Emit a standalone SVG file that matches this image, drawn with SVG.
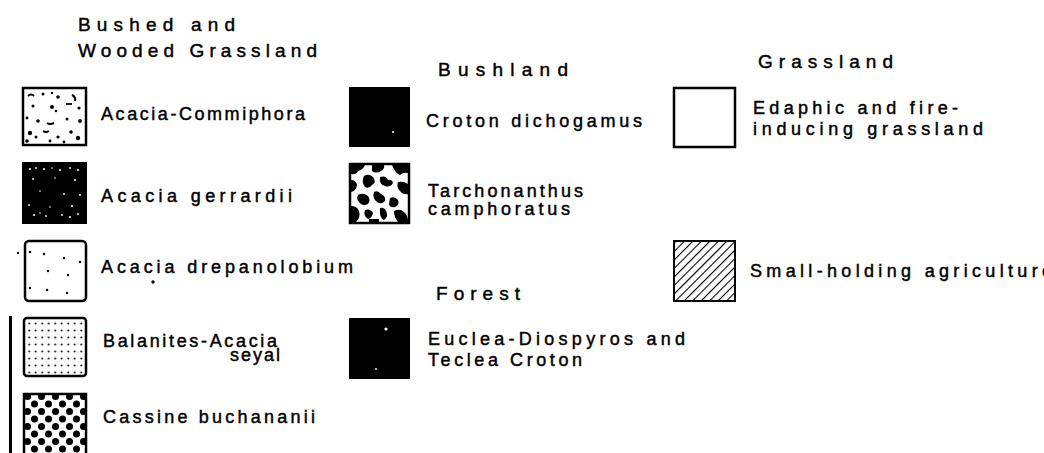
<svg xmlns="http://www.w3.org/2000/svg" width="1044" height="453" viewBox="0 0 1044 453">
<style>
text{font-family:"Liberation Sans","DejaVu Sans",sans-serif;fill:#000;stroke:#000;stroke-width:0.45;}
.h{font-size:19px;}
.t{font-size:18px;}
.box{fill:#fff;stroke:#000;stroke-width:2.5;}
.blk{fill:#000;stroke:#000;stroke-width:2;}
</style>
<defs>
<pattern id="grid" x="26" y="320" width="6.5" height="7" patternUnits="userSpaceOnUse">
<circle cx="3.2" cy="3.5" r="0.95" fill="#000"/>
</pattern>
<pattern id="cass" x="24" y="393" width="14" height="15" patternUnits="userSpaceOnUse">
<circle cx="3.5" cy="3.5" r="3.5" fill="#000"/>
<circle cx="10.5" cy="11" r="3.5" fill="#000"/>
</pattern>
<pattern id="hatch" x="0" y="0" width="6" height="6" patternUnits="userSpaceOnUse" patternTransform="rotate(45)">
<line x1="0" y1="0" x2="0" y2="6" stroke="#000" stroke-width="2.2"/>
</pattern>
</defs>

<g id="header-bushed">
<text class="h" x="78" y="31" textLength="157" lengthAdjust="spacing">Bushed  and</text>
<text class="h" x="78" y="57" textLength="239" lengthAdjust="spacing">Wooded Grassland</text>
</g>

<g id="acacia-commiphora">
<rect class="box" x="23" y="88" width="63" height="57"/>
<g fill="#000">
<path d="M28 96 q3 -3 6 0" stroke="#000" stroke-width="1.8" fill="none"/>
<circle cx="43" cy="94" r="1.5"/><circle cx="52" cy="93" r="1.2"/><circle cx="58" cy="97" r="1.8"/>
<path d="M72 95 q4 2 3 6" stroke="#000" stroke-width="2" fill="none"/>
<circle cx="33" cy="106" r="1.5"/><circle cx="52" cy="107" r="2"/><circle cx="56" cy="111" r="1.3"/>
<path d="M66 104 h6" stroke="#000" stroke-width="1.8"/>
<circle cx="79" cy="108" r="1.6"/>
<circle cx="27" cy="118" r="1.4"/><circle cx="38" cy="121" r="1.8"/><path d="M47 123 q3 2 7 0" stroke="#000" stroke-width="2" fill="none"/>
<circle cx="67" cy="119" r="1.5"/><circle cx="80" cy="121" r="1.9"/>
<circle cx="30" cy="133" r="2.2"/><circle cx="36" cy="137" r="1.5"/><path d="M43 131 q3 2 6 0" stroke="#000" stroke-width="1.8" fill="none"/>
<circle cx="58" cy="137" r="1.6"/><circle cx="71" cy="132" r="1.8"/><circle cx="78" cy="138" r="2.2"/>
<circle cx="27" cy="141" r="1.8"/><circle cx="50" cy="141" r="1.4"/><circle cx="64" cy="142" r="1.4"/>
</g>
<text class="t" x="101" y="120" textLength="204" lengthAdjust="spacing">Acacia-Commiphora</text>
</g>

<g id="acacia-gerrardii">
<rect class="blk" x="23" y="163" width="63" height="60"/>
<g fill="#fff">
<circle cx="30" cy="169" r="1"/><circle cx="36" cy="168" r="0.9"/><circle cx="44" cy="169" r="1"/><circle cx="52" cy="168" r="0.8"/><circle cx="60" cy="170" r="1"/><circle cx="70" cy="168" r="0.9"/><circle cx="78" cy="170" r="1"/>
<circle cx="33" cy="179" r="0.9"/><circle cx="55" cy="178" r="0.8"/><circle cx="75" cy="180" r="1.1"/>
<circle cx="40" cy="191" r="0.8"/><circle cx="64" cy="194" r="0.9"/><circle cx="80" cy="195" r="1"/>
<circle cx="29" cy="205" r="0.9"/><circle cx="50" cy="207" r="0.8"/><circle cx="72" cy="206" r="1"/>
<circle cx="34" cy="215" r="1.1"/><circle cx="40" cy="213" r="0.8"/><circle cx="46" cy="216" r="0.9"/><circle cx="62" cy="215" r="0.9"/><circle cx="70" cy="217" r="1"/><circle cx="78" cy="214" r="0.9"/>
</g>
<text class="t" x="101" y="202" textLength="191" lengthAdjust="spacing">Acacia  gerrardii</text>
</g>

<g id="acacia-drepanolobium">
<rect class="box" x="25" y="241" width="61" height="60" rx="4"/>
<g fill="#000">
<circle cx="30" cy="252" r="1.3"/><circle cx="44" cy="254" r="1.2"/><circle cx="64" cy="258" r="1.2"/><circle cx="80" cy="262" r="1.3"/>
<circle cx="48" cy="271" r="1.2"/><circle cx="68" cy="275" r="1.2"/><circle cx="30" cy="288" r="1.2"/><circle cx="47" cy="290" r="1.3"/><circle cx="67" cy="293" r="1.2"/>
<circle cx="18" cy="253" r="1.2"/><circle cx="153" cy="282" r="1.7"/>
</g>
<text class="t" x="101" y="273" textLength="252" lengthAdjust="spacing">Acacia  drepanolobium</text>
</g>

<g id="balanites-acacia">
<rect class="box" x="24" y="318" width="62" height="58" rx="3"/>
<rect x="26" y="320" width="58" height="54" fill="url(#grid)"/>
<text class="t" x="103" y="347" textLength="174" lengthAdjust="spacing">Balanites-Acacia</text>
<text class="t" x="230" y="361" textLength="50" lengthAdjust="spacing">seyal</text>
</g>

<g id="cassine-buchananii">
<rect class="box" x="24" y="394" width="62" height="62"/>
<rect x="25" y="395" width="60" height="60" fill="url(#cass)"/>
<text class="t" x="103" y="423" textLength="212" lengthAdjust="spacing">Cassine  buchananii</text>
</g>

<g id="bar">
<rect x="9" y="316" width="3" height="137" fill="#000"/>
</g>

<g id="header-bushland">
<text class="h" x="438" y="76" textLength="130" lengthAdjust="spacing">Bushland</text>
</g>

<g id="croton-dichogamus">
<rect class="blk" x="350" y="88" width="59" height="58"/>
<circle cx="393" cy="132" r="1" fill="#fff"/>
<text class="t" x="426" y="127" textLength="216" lengthAdjust="spacing">Croton dichogamus</text>
</g>

<g id="tarchonanthus">
<rect x="350" y="164" width="59" height="59" fill="#fff" stroke="#000" stroke-width="2.5"/>
<g fill="#000">
<path d="M351 165 h14 q-2 5 -7 6 q-2 4 -7 3 z"/>
<path d="M372 165 h12 q1 4 -3 6 q-5 3 -9 0 z"/>
<path d="M392 165 h16 v8 q-5 -1 -8 2 q-5 -2 -8 -10 z"/>
<path d="M364 176 q5 -3 9 1 q4 5 -1 8 q-3 4 -7 2 q-4 -5 -1 -11 z"/>
<path d="M380 177 q6 -2 8 3 q4 -1 5 3 q-3 5 -8 3 q-6 -1 -5 -9 z"/>
<path d="M351 180 q5 0 6 5 q-1 6 -6 7 z"/>
<path d="M398 182 q6 -1 10 2 v10 q-5 1 -8 -3 q-4 -4 -2 -9 z"/>
<path d="M358 195 q5 -3 10 1 q3 4 0 8 q-6 3 -9 -2 q-3 -3 -1 -7 z"/>
<path d="M374 192 q4 -2 7 2 q5 2 4 7 q-4 4 -8 1 q-5 -4 -3 -10 z"/>
<path d="M390 198 q5 -2 8 2 q2 5 -3 7 q-5 1 -6 -3 z"/>
<path d="M351 206 q6 0 8 5 q2 6 -3 11 h-5 z"/>
<path d="M365 210 q5 -2 8 3 q-1 5 -5 6 q-5 -3 -3 -9 z"/>
<path d="M380 208 q4 -1 6 3 q3 6 -2 9 q-5 -2 -4 -12 z"/>
<path d="M394 211 q6 -3 10 1 q4 3 4 10 h-10 q-4 -5 -4 -11 z"/>
<path d="M369 219 h10 v3 h-10 z"/>
</g>
<text class="t" x="428" y="197" textLength="155" lengthAdjust="spacing">Tarchonanthus</text>
<text class="t" x="428" y="215" textLength="142" lengthAdjust="spacing">camphoratus</text>
</g>

<g id="header-forest">
<text class="h" x="436" y="300" textLength="84" lengthAdjust="spacing">Forest</text>
</g>

<g id="euclea-diospyros">
<rect class="blk" x="350" y="319" width="59" height="59"/>
<circle cx="386" cy="329" r="1.6" fill="#fff"/>
<circle cx="376" cy="369" r="0.9" fill="#fff"/>
<text class="t" x="428" y="345" textLength="257" lengthAdjust="spacing">Euclea-Diospyros  and</text>
<text class="t" x="428" y="366" textLength="154" lengthAdjust="spacing">Teclea  Croton</text>
</g>

<g id="header-grassland">
<text class="h" x="758" y="68" textLength="135" lengthAdjust="spacing">Grassland</text>
</g>

<g id="edaphic-grassland">
<rect class="box" x="674" y="88" width="61" height="59"/>
<text class="t" x="753" y="114" textLength="205" lengthAdjust="spacing">Edaphic  and  fire-</text>
<text class="t" x="753" y="135" textLength="230" lengthAdjust="spacing">inducing  grassland</text>
</g>

<g id="small-holding">
<rect x="674" y="241" width="61" height="60" fill="url(#hatch)" stroke="#000" stroke-width="2"/>
<text class="t" x="750" y="277" textLength="302" lengthAdjust="spacing">Small-holding  agriculture</text>
</g>
</svg>
